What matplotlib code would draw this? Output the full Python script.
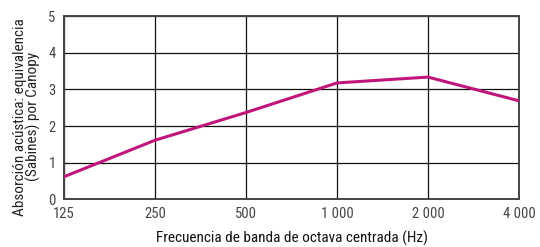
import matplotlib
matplotlib.use("Agg")
import matplotlib.pyplot as plt
from matplotlib import font_manager

freqs = [125, 250, 500, 1000, 2000, 4000]
freq_labels = ["125", "250", "500", "1 000", "2 000", "4 000"]
absorption = [0.61, 1.61, 2.37, 3.18, 3.34, 2.69]
y_ticks = [0, 1, 2, 3, 4, 5]

names = {f.name for f in font_manager.fontManager.ttflist}
cands = ["Liberation Sans Narrow", "Roboto Condensed", "Roboto", "Liberation Sans"]
fams = [c for c in cands if c in names]
plt.rcParams["font.family"] = fams + ["DejaVu Sans"]

fig = plt.figure(figsize=(5.4, 2.47), dpi=100)
ax = fig.add_axes([64/540, 1-199/247, (519-64)/540, (199-16.5)/247])
ax.set_xscale("log", base=2)
ax.plot(freqs, absorption, color="#C0157A", lw=2.2, solid_joinstyle="miter", zorder=3)
ax.set_xlim(125, 4000)
ax.set_ylim(0, 5)
ax.set_xticks(freqs)
ax.set_xticklabels(freq_labels)
ax.xaxis.set_minor_locator(matplotlib.ticker.NullLocator())
ax.set_yticks(y_ticks)
ax.grid(True, color="#111111", lw=0.9)
for s in ax.spines.values():
    s.set_color("#444444")
    s.set_linewidth(1.4)
ax.tick_params(length=0, labelsize=10.5, labelcolor="#444444", pad=6)
ax.set_xlabel("Frecuencia de banda de octava centrada (Hz)", fontsize=11, color="#111111", labelpad=7)
ax.set_ylabel("Absorción acústica: equivalencia\n(Sabines) por Canopy", fontsize=11, color="#222222",
              linespacing=0.95, labelpad=5)
ax.yaxis.label.set_y(0.45)
fig.savefig("out.png", dpi=100)
